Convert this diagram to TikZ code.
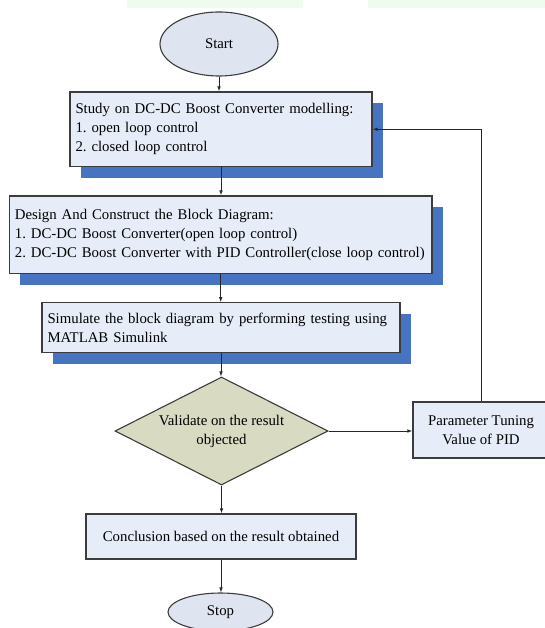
\documentclass[tikz,border=0pt]{standalone}
\usepackage{fontspec}
\setmainfont{Liberation Serif}
\usetikzlibrary{shapes.geometric,shadows,arrows.meta}
\definecolor{boxfill}{HTML}{E7EDF8}
\definecolor{shadowblue}{HTML}{4674C2}
\definecolor{dfill}{HTML}{D8DBC1}
\definecolor{efill}{HTML}{DEE5F1}
\definecolor{edge}{HTML}{3C3C3C}
\definecolor{strip}{HTML}{EEFBEE}
\frenchspacing
\tikzset{
  txt/.style={font=\fontsize{14.8}{19}\selectfont\frenchspacing},
  procbox/.style={txt, draw=edge, line width=1.2pt, fill=boxfill, rectangle, inner xsep=5.5pt, inner ysep=0pt, align=left},
  shadowed/.style={drop shadow={shadow xshift=11pt, shadow yshift=-11.5pt, opacity=1, fill=shadowblue}},
  plainbox/.style={txt, draw=edge, line width=1.2pt, fill=boxfill, rectangle, inner sep=0pt, align=center},
  term/.style={txt, draw=edge, line width=1.1pt, fill=efill, ellipse, inner sep=0pt},
  decide/.style={txt, draw=edge, line width=1.1pt, fill=dfill, diamond, aspect=2, inner sep=0pt, align=center},
  flow/.style={draw=black!85, line width=0.8pt, -{Latex[length=5pt,width=3.6pt]}}
}
\begin{document}
\begin{tikzpicture}[x=1pt,y=-1pt]
\useasboundingbox (0,0) rectangle (545,628);
\clip (0,0) rectangle (545,628);
\fill[strip] (127,0) rectangle (303,8.5);
\fill[strip] (368,0) rectangle (545,8.5);

\node[term, minimum width=118pt, minimum height=64pt] (start) at (219,44) {Start};

\node[procbox, shadowed, text width=291pt, minimum height=74.5pt] (b1) at (221,129.25)
  {\mbox{Study on DC-DC Boost Converter modelling:}\\\mbox{1. open loop control}\\\mbox{2. closed loop control}};

\node[procbox, shadowed, text width=411.7pt, minimum height=77.5pt] (b2) at (220.7,234.75)
  {\mbox{Design And Construct the Block Diagram:}\\\mbox{1. DC-DC Boost Converter(open loop control)}\\\mbox{2. DC-DC Boost Converter with PID Controller(close loop control)}};

\node[procbox, shadowed, text width=347pt, minimum height=49.5pt] (b3) at (221,327.5)
  {\mbox{Simulate the block diagram by performing testing using}\\\mbox{MATLAB Simulink}};

\node[decide, minimum width=213pt, minimum height=108pt] (val) at (221.5,431)
  {Validate on the result\\objected};

\node[plainbox, minimum width=136pt, minimum height=56pt] (pid) at (481,430)
  {Parameter Tuning\\Value of PID};

\node[plainbox, minimum width=270pt, minimum height=45pt] (conc) at (221,536.5)
  {Conclusion based on the result obtained};

\node[term, minimum width=105pt, minimum height=38pt] (stop) at (220.5,612) {Stop};

\draw[flow] (start.south) -- (start.south |- b1.north);
\draw[flow] (b1.south) -- (b1.south |- b2.north);
\draw[flow] (b2.south) -- (b2.south |- b3.north);
\draw[flow] (b3.south) -- (b3.south |- val.north);
\draw[flow] (val.south) -- (val.south |- conc.north);
\draw[flow] (conc.south) -- (conc.south |- stop.north);
\draw[flow] (val.east) -- (val.east -| pid.west);
\draw[flow] (pid.north) |- (b1.east);
\end{tikzpicture}
\end{document}
